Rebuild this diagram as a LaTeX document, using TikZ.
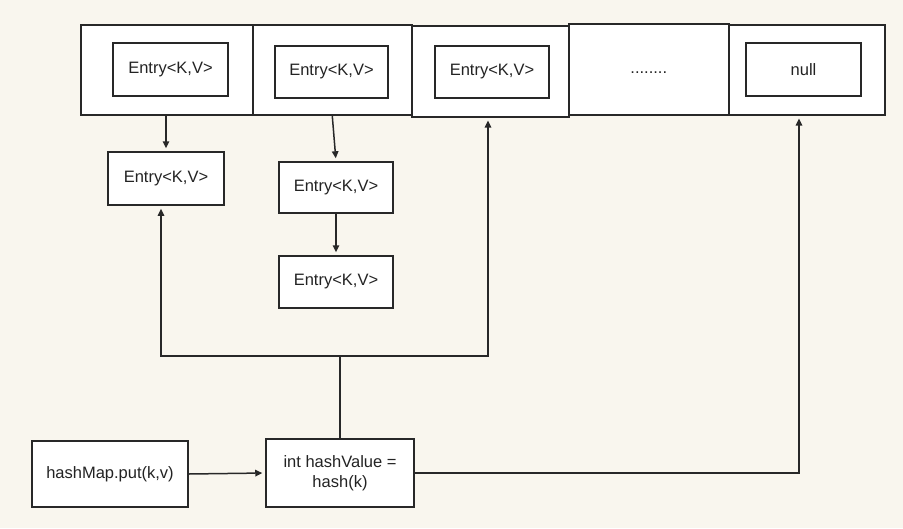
\documentclass[tikz,border=0pt]{standalone}
\usepackage{fontspec}
\setmainfont{Liberation Sans}
\usetikzlibrary{arrows.meta}
\definecolor{bg}{RGB}{249,246,238}
\definecolor{lncol}{RGB}{40,40,40}
\definecolor{tx}{RGB}{35,35,35}
\tikzset{
  box/.style={draw=lncol, line width=1.5pt, fill=white, inner sep=0pt, text=tx,
    font=\fontsize{16.5pt}{20pt}\selectfont},
  arr/.style={draw=lncol, line width=1.5pt, -{Triangle[length=7pt,width=6.5pt]}, shorten >=3pt},
  plain/.style={draw=lncol, line width=1.5pt}
}
\begin{document}
\begin{tikzpicture}[x=1pt,y=-1pt]
\useasboundingbox[fill=bg] (0,0) rectangle (903,528);
% outer array cells
\node[box, anchor=north west, minimum width=172pt, minimum height=90pt] (b1) at (80,24) {};
\node[box, anchor=north west, minimum width=159pt, minimum height=90pt] (b2) at (252,24) {};
\node[box, anchor=north west, minimum width=157pt, minimum height=91pt] (b3) at (411,25) {};
\node[box, anchor=north west, minimum width=160pt, minimum height=91pt] (b4) at (568,23) {\vphantom{Entry}........};
\node[box, anchor=north west, minimum width=156pt, minimum height=90pt] (b5) at (728,24) {};
% inner entries
\node[box, minimum width=115pt, minimum height=53pt] (i1) at (170.5,69.5) {Entry<K,V>};
\node[box, minimum width=113pt, minimum height=52pt] (i2) at (331.5,72) {Entry<K,V>};
\node[box, minimum width=114pt, minimum height=52pt] (i3) at (492,72) {Entry<K,V>};
\node[box, minimum width=115pt, minimum height=53pt] (i5) at (803.5,69.5) {null};
% chained entries
\node[box, minimum width=116pt, minimum height=53pt] (e1) at (166,178.5) {Entry<K,V>};
\node[box, minimum width=114pt, minimum height=51pt] (e2) at (336,187.5) {Entry<K,V>};
\node[box, minimum width=114pt, minimum height=52pt] (e3) at (336,282) {Entry<K,V>};
% bottom
\node[box, minimum width=156pt, minimum height=66pt] (p) at (110,474) {hashMap.put(k,v)};
\node[box, align=center, minimum width=148pt, minimum height=68pt] (h) at (340,473) {int hashValue =\\hash(k)};
% coordinates
\coordinate (j) at (340,356);
\coordinate (jl) at (161,356);
\coordinate (jr) at (488,356);
\coordinate (nr) at (799,473);
% connectors
\draw[arr] (e1.north |- b1.south) -- (e1.north);
\draw[arr] (b2.south) -- (e2.north);
\draw[arr] (e2.south) -- (e3.north);
\draw[plain] (h.north) -- (j);
\draw[arr] (j) -- (jl) -- (jl |- e1.south);
\draw[arr] (j) -- (jr) -- (jr |- b3.south);
\draw[arr] (p.east) -- (h.west);
\draw[arr] (h.east) -- (nr) -- (nr |- b5.south);
\end{tikzpicture}
\end{document}
